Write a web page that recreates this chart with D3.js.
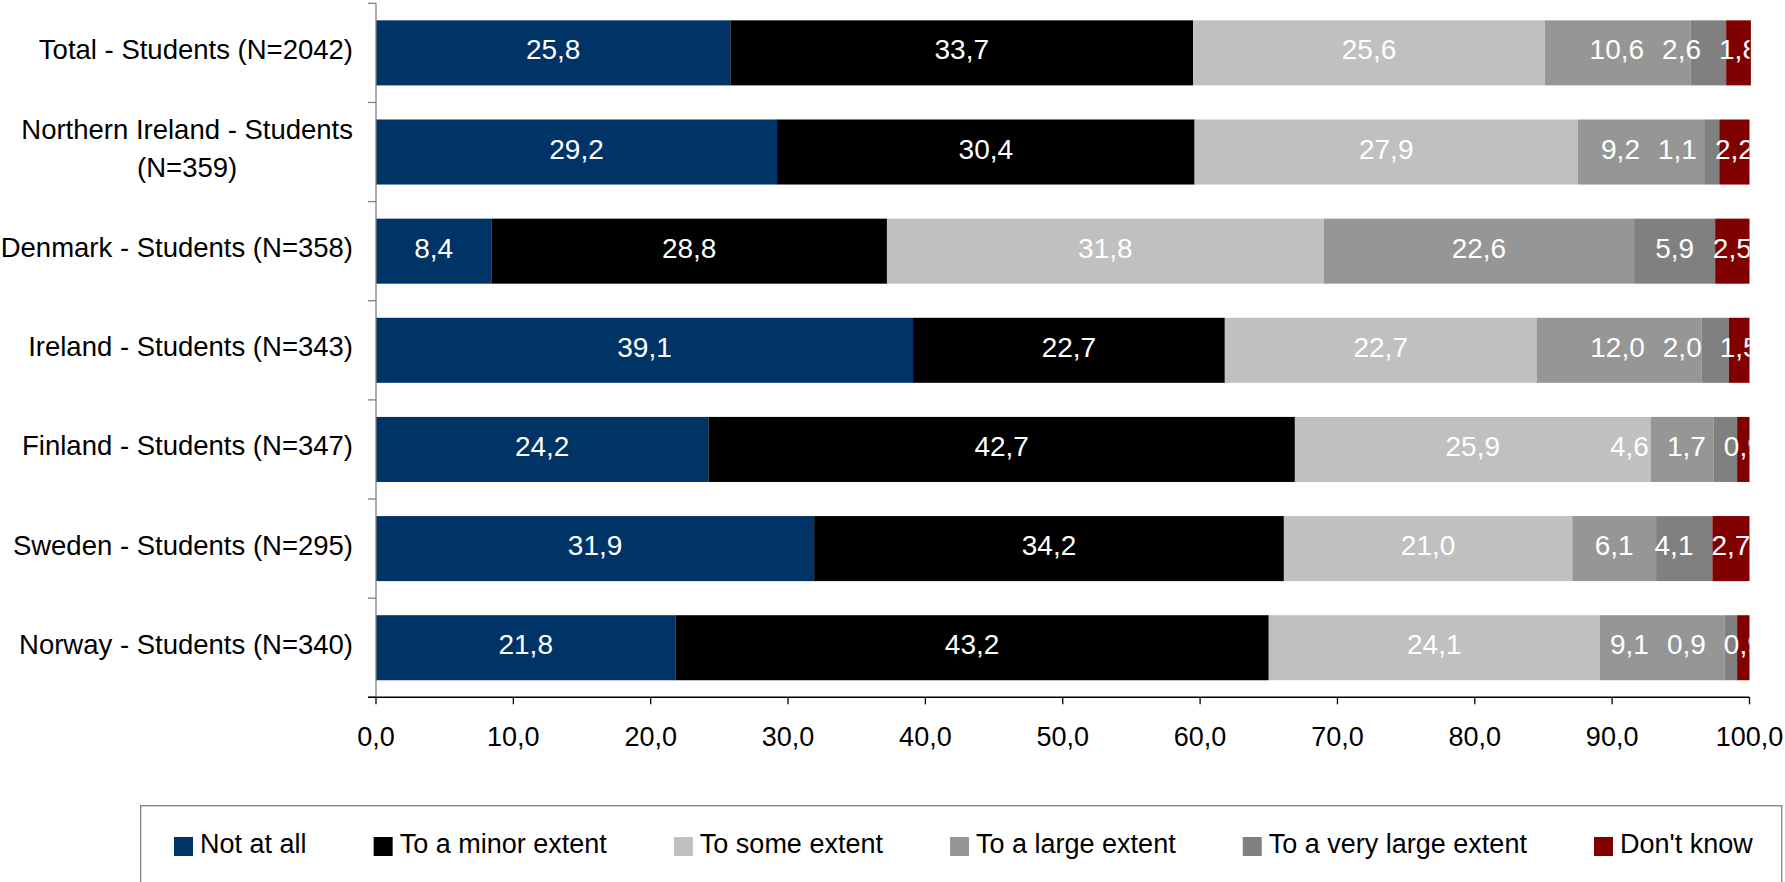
<!DOCTYPE html>
<html>
<head>
<meta charset="utf-8">
<script src="https://cdn.jsdelivr.net/npm/d3@7"></script>
<style>
  body { margin: 0; background: #fff; }
  svg { display: block; font-family: "Liberation Sans", Arial, sans-serif; }
</style>
</head>
<body>
<svg id="chart" width="1785" height="882"></svg>
<script>
// ---------- data ----------
const categories = [
  "Total - Students (N=2042)",
  "Northern Ireland - Students (N=359)",
  "Denmark - Students (N=358)",
  "Ireland - Students (N=343)",
  "Finland - Students (N=347)",
  "Sweden - Students (N=295)",
  "Norway - Students (N=340)"
];
const seriesNames = ["Not at all", "To a minor extent", "To some extent", "To a large extent", "To a very large extent", "Don't know"];
const notAtAll        = [25.8, 29.2,  8.4, 39.1, 24.2, 31.9, 21.8];
const minorExtent     = [33.7, 30.4, 28.8, 22.7, 42.7, 34.2, 43.2];
const someExtent      = [25.6, 27.9, 31.8, 22.7, 25.9, 21.0, 24.1];
const largeExtent     = [10.6,  9.2, 22.6, 12.0,  4.6,  6.1,  9.1];
const veryLargeExtent = [ 2.6,  1.1,  5.9,  2.0,  1.7,  4.1,  0.9];
const dontKnow        = [ 1.8,  2.2,  2.5,  1.5,  0.9,  2.7,  0.9];
const tickValues = [0, 10, 20, 30, 40, 50, 60, 70, 80, 90, 100];
const seriesColors = ["#003366", "#000000", "#C0C0C0", "#969696", "#808080", "#800000"];

// ---------- build table ----------
const seriesArrays = [notAtAll, minorExtent, someExtent, largeExtent, veryLargeExtent, dontKnow];
const keys = seriesNames;
const rows = categories.map((c, i) => {
  const r = { category: c };
  keys.forEach((k, j) => { r[k] = seriesArrays[j][i]; });
  return r;
});
const stacked = d3.stack().keys(keys)(rows);

// ---------- layout ----------
const svg = d3.select("#chart");
const FONT = 27;
const CAT_FONT = 27.5;
const plot = { left: 376, right: 1749.5, top: 3.3, bottom: 697.3 };

const x = d3.scaleLinear().domain([0, 100]).range([plot.left, plot.right]);
const y = d3.scaleBand().domain(categories).range([plot.top, plot.bottom])
  .paddingInner(0.344).paddingOuter(0.172);
const color = d3.scaleOrdinal().domain(keys).range(seriesColors);

svg.append("defs").append("clipPath").attr("id", "plotclip")
  .append("rect")
  .attr("x", plot.left).attr("y", plot.top)
  .attr("width", plot.right - plot.left).attr("height", plot.bottom - plot.top);

// ---------- bars ----------
const gBars = svg.append("g");
gBars.selectAll("g.series").data(stacked).join("g")
  .attr("class", "series")
  .attr("fill", d => color(d.key))
  .selectAll("rect").data(d => d).join("rect")
  .attr("x", d => x(d[0]))
  .attr("y", d => y(d.data.category))
  .attr("width", d => x(d[1]) - x(d[0]))
  .attr("height", y.bandwidth());

// ---------- bar labels ----------
const fmt = v => d3.format(".1f")(v).replace(".", ",");
const gLabels = svg.append("g").attr("clip-path", "url(#plotclip)");
categories.forEach((cat, i) => {
  const cy = y(cat) + y.bandwidth() / 2;
  const items = stacked.map(s => {
    const seg = s[i];
    const t = gLabels.append("text")
      .attr("fill", "#fff")
      .attr("font-size", 28)
      .attr("text-anchor", "middle")
      .attr("y", cy)
      .attr("dy", 6.5)
      .text(fmt(seg[1] - seg[0]));
    return { t, cx: (x(seg[0]) + x(seg[1])) / 2, w: t.node().getComputedTextLength() };
  });
  let limit = Infinity;
  for (let j = items.length - 1; j >= 0; j--) {
    const it = items[j];
    it.cx = Math.min(it.cx, limit - it.w / 2);
    limit = it.cx - it.w / 2 - 18;
    it.t.attr("x", it.cx);
  }
});

// ---------- y axis ----------
const gY = svg.append("g");
const boundaries = categories.map(c => y(c) - y.paddingInner() * y.step() / 2);
boundaries.push(plot.bottom);
gY.append("line")
  .attr("x1", plot.left).attr("x2", plot.left)
  .attr("y1", plot.top).attr("y2", plot.bottom)
  .attr("stroke", "#808080").attr("stroke-width", 1.3);
gY.selectAll("line.tick").data(boundaries).join("line")
  .attr("class", "tick")
  .attr("x1", plot.left - 8).attr("x2", plot.left)
  .attr("y1", d => d).attr("y2", d => d)
  .attr("stroke", "#808080").attr("stroke-width", 1.3);

// category labels (wrapped, block right-aligned, lines centered)
const labelRight = 353;
const maxLabelWidth = 366;
const lineGap = 38.4;
categories.forEach(cat => {
  const cy = y(cat) + y.bandwidth() / 2;
  const g = svg.append("g");
  const measure = g.append("text").attr("font-size", CAT_FONT);
  const words = cat.split(" ");
  const lines = [];
  let cur = "";
  words.forEach(w => {
    const test = cur ? cur + " " + w : w;
    measure.text(test);
    if (measure.node().getComputedTextLength() > maxLabelWidth && cur) {
      lines.push(cur);
      cur = w;
    } else {
      cur = test;
    }
  });
  lines.push(cur);
  let maxW = 0;
  lines.forEach(l => { measure.text(l); maxW = Math.max(maxW, measure.node().getComputedTextLength()); });
  measure.remove();
  const cx = labelRight - maxW / 2;
  const firstBase = cy + 6 - (lines.length - 1) * lineGap / 2;
  lines.forEach((l, k) => {
    g.append("text")
      .attr("font-size", CAT_FONT)
      .attr("fill", "#000")
      .attr("text-anchor", "middle")
      .attr("x", cx)
      .attr("y", firstBase + k * lineGap)
      .text(l);
  });
});

// ---------- x axis ----------
const gX = svg.append("g").attr("transform", `translate(0,${plot.bottom})`);
gX.append("line")
  .attr("x1", plot.left - 8).attr("x2", plot.right)
  .attr("y1", 0).attr("y2", 0)
  .attr("stroke", "#000").attr("stroke-width", 1.5);
gX.selectAll("line.tick").data(tickValues).join("line")
  .attr("class", "tick")
  .attr("x1", d => x(d)).attr("x2", d => x(d))
  .attr("y1", 0).attr("y2", 7)
  .attr("stroke", "#000").attr("stroke-width", 1.3);
gX.selectAll("text").data(tickValues).join("text")
  .attr("x", d => x(d))
  .attr("y", 48.7)
  .attr("font-size", FONT)
  .attr("text-anchor", "middle")
  .attr("fill", "#000")
  .text(d => fmt(d));

// ---------- legend ----------
const legend = svg.append("g");
legend.append("rect")
  .attr("x", 140.7).attr("y", 805.7)
  .attr("width", 1641).attr("height", 120)
  .attr("fill", "#fff").attr("stroke", "#808080").attr("stroke-width", 1.3);
const swatch = 19, swatchY = 837, legendBase = 852.7, textOff = 26;
const legendStart = 174, legendLastStart = 1594;
const items = keys.map(k => {
  const t = legend.append("text")
    .attr("y", legendBase)
    .attr("font-size", FONT).attr("fill", "#000")
    .text(k);
  return { k, t, w: t.node().getComputedTextLength() };
});
const usedWidth = items.slice(0, -1).reduce((s, it) => s + textOff + it.w, 0);
const gap = (legendLastStart - legendStart - usedWidth) / (items.length - 1);
let lx = legendStart;
items.forEach(it => {
  legend.append("rect")
    .attr("x", lx).attr("y", swatchY)
    .attr("width", swatch).attr("height", swatch)
    .attr("fill", color(it.k));
  it.t.attr("x", lx + textOff);
  lx += textOff + it.w + gap;
});
</script>
</body>
</html>
